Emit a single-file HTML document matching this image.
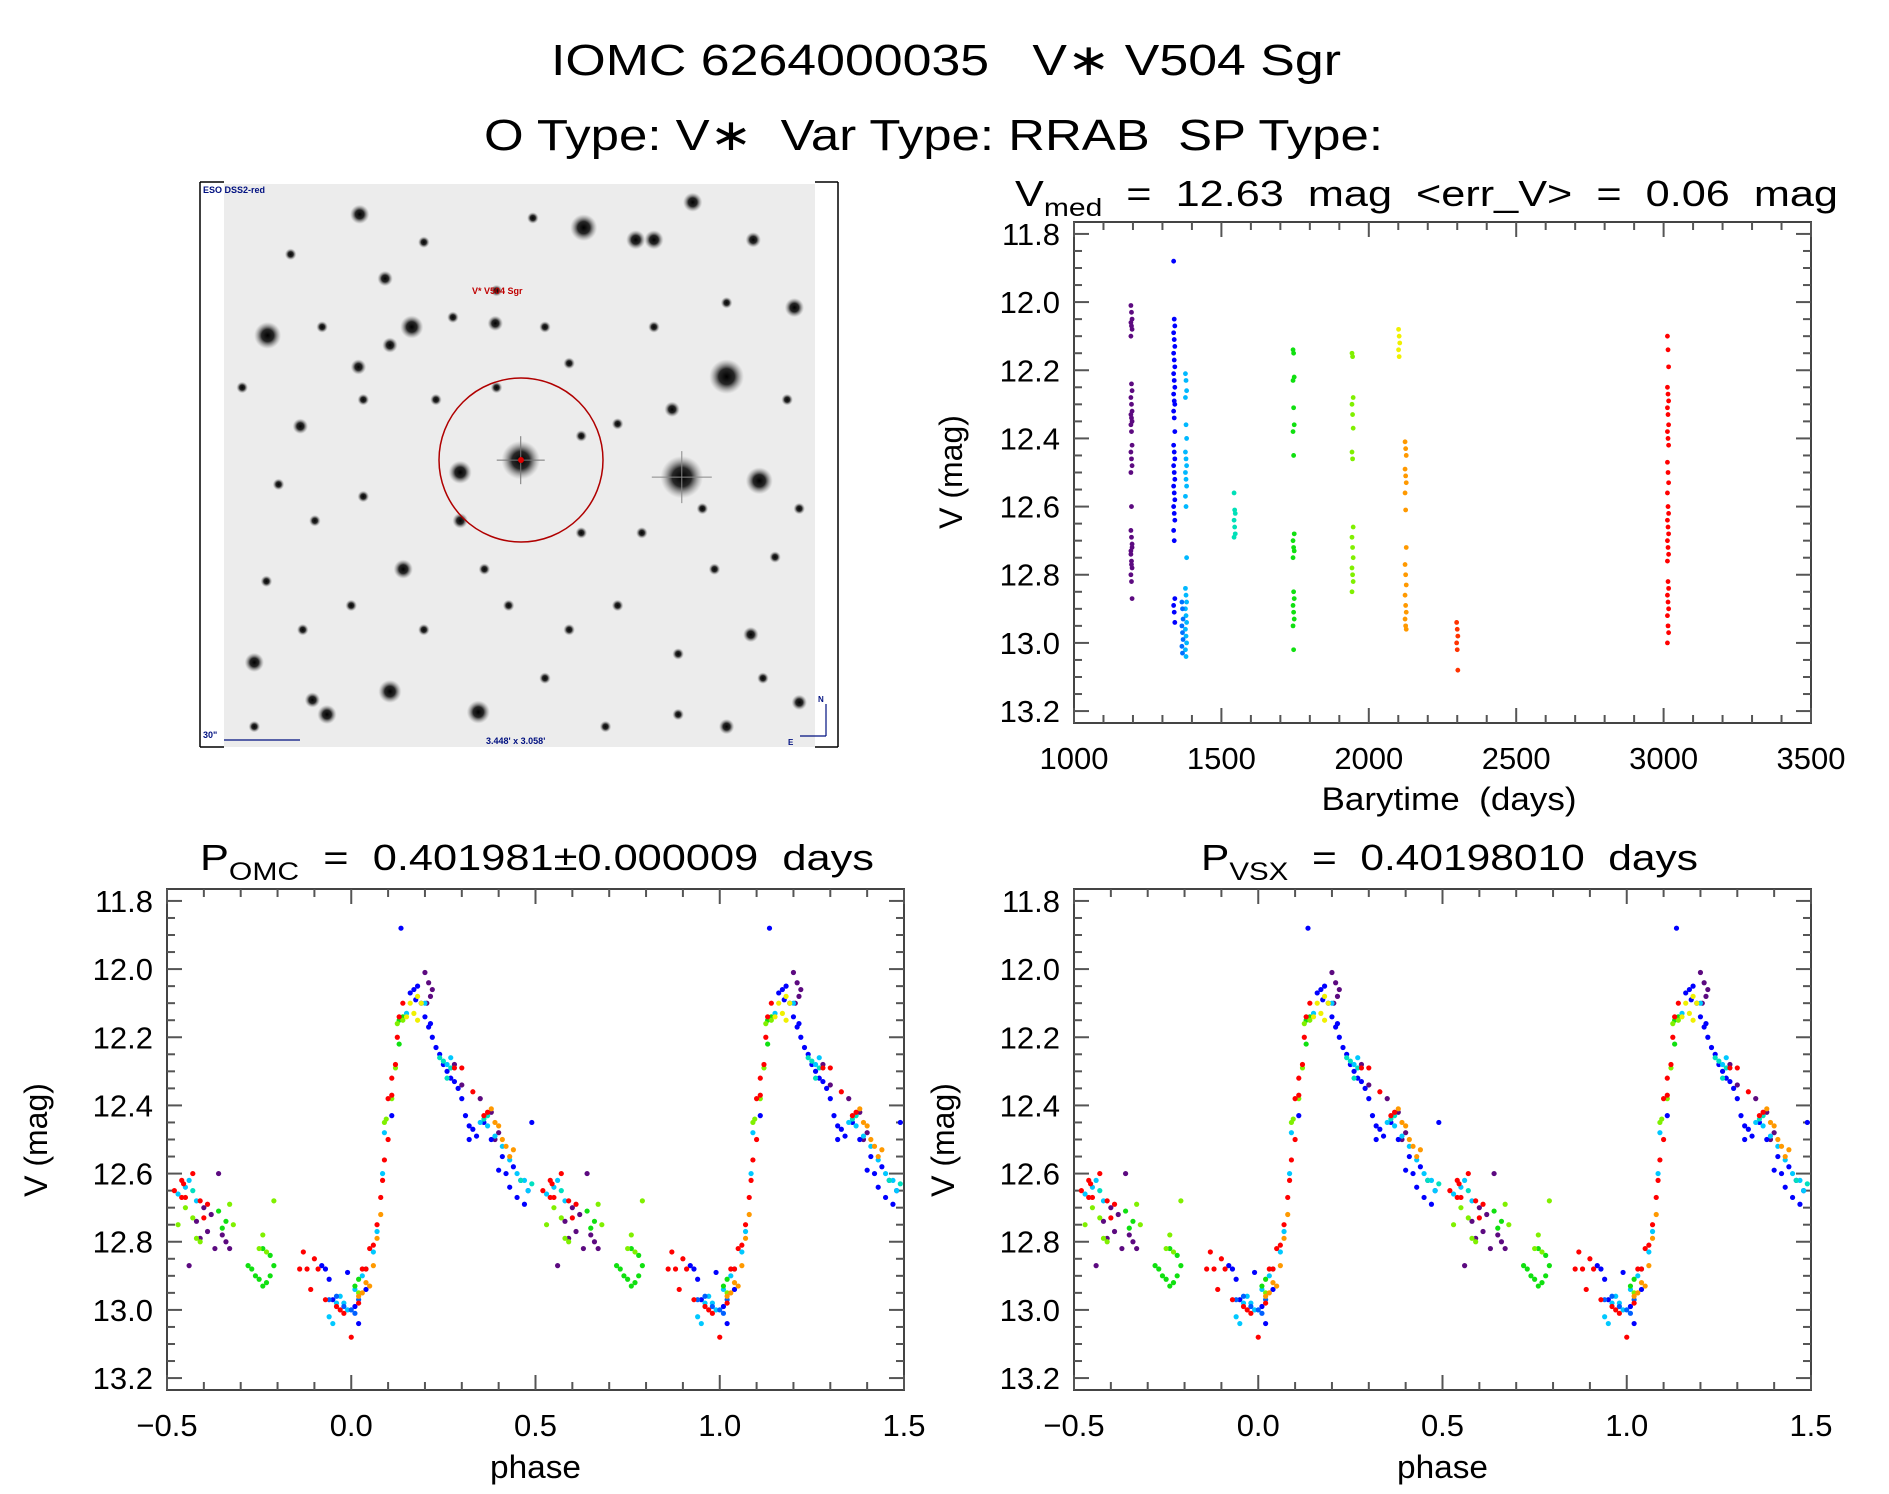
<!DOCTYPE html>
<html><head><meta charset="utf-8"><style>
html,body{margin:0;padding:0;background:#fff}
svg{display:block}
text{font-family:"Liberation Sans",sans-serif;fill:#000;white-space:pre}
</style></head><body>
<svg id="fig" width="1889" height="1494" viewBox="0 0 1889 1494" xmlns="http://www.w3.org/2000/svg" xml:space="preserve">
<defs>
<radialGradient id="star"><stop offset="0" stop-color="#000" stop-opacity="1"/><stop offset="0.45" stop-color="#111" stop-opacity="0.9"/><stop offset="1" stop-color="#888" stop-opacity="0"/></radialGradient>
</defs>
<text x="551" y="75" font-size="44" textLength="790" lengthAdjust="spacingAndGlyphs">IOMC 6264000035   V∗ V504 Sgr</text>
<text x="484" y="150" font-size="44" textLength="899" lengthAdjust="spacingAndGlyphs">O Type: V∗  Var Type: RRAB  SP Type:</text>
<g id="img"></g>
<g id="ts"></g>
<g id="ph1"></g>
<g id="ph2"></g>
</svg>
<script>
// ---- Time series data (Barytime, V mag) per season ----
const seasonColors = ['#5c0a80','#0000ff','#00b8ff','#0070ff','#00e0b8','#10e010','#80f000','#f0f000','#ff9900','#ff3300','#ff0000'];
const seasonTimes = [1195,1340,1380,1368,1545,1745,1945,2103,2125,2300,3015];
const seasonMags = [
 [12.01,12.03,12.05,12.06,12.07,12.08,12.10,12.24,12.26,12.28,12.30,12.32,12.33,12.34,12.35,12.36,12.38,12.42,12.44,12.46,12.48,12.50,12.60,12.72,12.74,12.76,12.78,12.80,12.82,12.87,12.67,12.69,12.71,12.73,12.77],
 [11.88,12.05,12.07,12.09,12.11,12.13,12.15,12.17,12.19,12.21,12.23,12.25,12.27,12.29,12.30,12.32,12.34,12.38,12.42,12.44,12.46,12.48,12.50,12.52,12.54,12.56,12.58,12.60,12.62,12.64,12.67,12.70,12.87,12.89,12.91,12.94],
 [12.21,12.23,12.26,12.28,12.36,12.40,12.44,12.46,12.48,12.50,12.52,12.54,12.57,12.60,12.75,12.84,12.86,12.88,12.90,12.92,12.94,12.96,12.98,13.00,13.02,13.04],
 [12.88,12.90,12.93,12.95,12.97,12.99,13.01,13.03],
 [12.56,12.61,12.62,12.64,12.66,12.68,12.69],
 [12.14,12.15,12.22,12.23,12.31,12.36,12.38,12.45,12.68,12.70,12.72,12.73,12.75,12.85,12.87,12.89,12.91,12.93,12.95,13.02],
 [12.15,12.16,12.28,12.30,12.33,12.37,12.44,12.46,12.66,12.69,12.72,12.75,12.78,12.80,12.82,12.85],
 [12.08,12.10,12.12,12.14,12.16],
 [12.41,12.43,12.45,12.49,12.51,12.53,12.56,12.61,12.72,12.77,12.80,12.83,12.86,12.89,12.91,12.93,12.95,12.96],
 [12.94,12.96,12.98,13.00,13.02,13.08],
 [12.10,12.14,12.19,12.25,12.27,12.29,12.31,12.33,12.36,12.38,12.40,12.42,12.47,12.50,12.53,12.56,12.60,12.62,12.64,12.66,12.68,12.70,12.72,12.74,12.76,12.82,12.84,12.86,12.88,12.90,12.92,12.95,12.97,13.00]
];
// ---- Phase data (phase in [-0.5,0.5), V mag), by season color index ----
const phPurple = [[-0.44,12.87],[-0.42,12.74],[-0.41,12.79],[-0.39,12.77],[-0.38,12.72],[-0.37,12.82],[-0.36,12.60],[-0.35,12.78],[-0.34,12.80],[-0.33,12.82],[-0.40,12.70],[0.20,12.01],[0.21,12.04],[0.215,12.08],[0.22,12.06],[0.205,12.10],[0.28,12.28],[0.30,12.34],[0.35,12.38],[0.38,12.42],[0.39,12.50],[0.40,12.48]];
const phBlue = [[-0.08,12.87],[-0.07,12.88],[-0.06,12.91],[-0.05,12.97],[-0.01,12.89],[0.01,12.99],[0.02,13.04],[0.04,12.94],[0.11,12.43],[0.135,11.88],[0.16,12.07],[0.17,12.06],[0.18,12.05],[0.19,12.10],[0.20,12.14],[0.21,12.17],[0.22,12.20],[0.23,12.23],[0.24,12.25],[0.215,12.16],[0.25,12.28],[0.26,12.30],[0.27,12.32],[0.28,12.33],[0.29,12.35],[0.30,12.38],[0.31,12.43],[0.32,12.46],[0.33,12.47],[0.32,12.50],[0.34,12.49],[0.36,12.45],[0.38,12.50],[0.40,12.59],[0.42,12.60],[0.43,12.64],[0.45,12.67],[0.47,12.69],[0.49,12.45],[0.48,12.65],[0.46,12.62],[0.44,12.58],[0.41,12.55],[0.175,12.09]];
const phSky = [[-0.06,13.02],[-0.05,13.04],[-0.04,12.98],[-0.03,12.96],[-0.02,12.98],[-0.01,13.00],[0.01,12.94],[0.03,12.90],[0.04,12.88],[0.06,12.83],[0.07,12.77],[0.085,12.60],[0.09,12.48],[0.15,12.13],[0.20,12.10],[0.26,12.28],[0.27,12.26],[0.35,12.45],[0.37,12.46],[0.39,12.49],[0.41,12.52],[0.43,12.56],[0.45,12.60],[0.47,12.62],[0.48,12.65],[-0.47,12.66],[-0.45,12.64],[-0.44,12.62],[-0.42,12.68]];
const phDeepBlue = [[-0.06,12.97],[-0.04,12.96],[0.0,13.0],[0.02,12.97],[-0.02,12.99],[0.01,13.01]];
const phTeal = [[0.24,12.26],[0.25,12.27],[0.27,12.29],[0.26,12.32],[0.36,12.44],[0.37,12.43],[0.46,12.62],[-0.43,12.65],[0.49,12.63]];
const phGreen = [[-0.28,12.87],[-0.27,12.88],[-0.26,12.90],[-0.25,12.91],[-0.24,12.93],[-0.23,12.92],[-0.22,12.90],[-0.21,12.87],[-0.24,12.82],[-0.22,12.84],[0.02,12.91],[0.01,12.93],[0.13,12.15],[0.13,12.22],[0.14,12.14],[-0.34,12.74],[-0.35,12.76],[-0.36,12.71]];
const phLime = [[-0.47,12.75],[-0.45,12.70],[-0.43,12.73],[-0.42,12.79],[-0.41,12.80],[-0.33,12.69],[-0.32,12.75],[-0.25,12.82],[-0.24,12.78],[-0.23,12.83],[-0.21,12.68],[0.09,12.45],[0.095,12.44],[0.11,12.38],[0.12,12.29],[0.125,12.16],[0.14,12.15],[0.02,12.95]];
const phYellow = [[0.16,12.10],[0.17,12.13],[0.18,12.15],[0.19,12.10],[0.18,12.08],[0.15,12.14]];
const phOrange = [[0.03,12.95],[0.05,12.93],[0.06,12.87],[0.07,12.79],[0.08,12.72],[0.38,12.41],[0.39,12.45],[0.40,12.46],[0.41,12.50],[0.42,12.52],[0.43,12.55],[0.44,12.53],[0.02,12.96],[0.04,12.92]];
const phRed = [[-0.14,12.88],[-0.13,12.83],[-0.12,12.88],[-0.10,12.85],[-0.09,12.88],[-0.11,12.94],[-0.07,12.97],[-0.04,12.99],[-0.03,13.00],[-0.02,13.01],[0.0,13.08],[0.02,12.98],[0.03,12.88],[0.04,12.88],[0.05,12.82],[0.06,12.81],[0.07,12.75],[0.08,12.67],[0.085,12.62],[0.09,12.56],[0.10,12.50],[0.10,12.38],[0.11,12.37],[0.11,12.32],[0.12,12.28],[0.125,12.20],[0.13,12.14],[0.14,12.10],[0.28,12.29],[0.30,12.29],[0.33,12.36],[0.36,12.43],[0.37,12.42],[-0.48,12.65],[-0.46,12.62],[-0.45,12.67],[-0.43,12.60],[-0.41,12.68],[-0.40,12.73],[-0.39,12.69],[-0.46,12.67],[-0.455,12.63]];
const phaseGroups = [[phPurple,'#5c0a80'],[phBlue,'#0000ff'],[phSky,'#00c8ff'],[phDeepBlue,'#0060ff'],[phTeal,'#00e0c0'],[phGreen,'#10e010'],[phLime,'#80f000'],[phYellow,'#f0f000'],[phOrange,'#ff9900'],[phRed,'#ff0000']];
const magTicks = ['11.8','12.0','12.2','12.4','12.6','12.8','13.0','13.2'];
const timeTicks = ['1000','1500','2000','2500','3000','3500'];
const phaseTicks = ['\u22120.5','0.0','0.5','1.0','1.5'];

const NS='http://www.w3.org/2000/svg';
function mk(tag, parent, attrs){const e=document.createElementNS(NS,tag);for(const k in attrs)e.setAttribute(k,attrs[k]);parent.appendChild(e);return e;}

function panel(g, box, xd, yd, xMaj, xMin, yMaj, yMin, xlabels, ylabels, name){
  const sx=v=>box.x0+(v-xd[0])/(xd[1]-xd[0])*(box.x1-box.x0);
  const sy=v=>box.y0+(v-yd[0])/(yd[1]-yd[0])*(box.y1-box.y0);
  const r=mk('rect',g,{x:box.x0,y:box.y0,width:box.x1-box.x0,height:box.y1-box.y0,fill:'none',stroke:'#444','stroke-width':2});
  
  
  const tk=mk('g',g,{stroke:'#555','stroke-width':2});
  
  
  const n=Math.round((xd[1]-xd[0])/xMin);
  for(let i=0;i<=n;i++){const v=xd[0]+i*xMin;const X=sx(v);const maj=Math.abs((v-xd[0])/xMaj-Math.round((v-xd[0])/xMaj))<1e-6;const L=maj?15:8;
    mk('line',tk,{x1:X,x2:X,y1:box.y1,y2:box.y1-L});mk('line',tk,{x1:X,x2:X,y1:box.y0,y2:box.y0+L});}
  const m=Math.round((13.2-11.8)/yMin);
  for(let i=0;i<=m;i++){const v=11.8+i*yMin;const Y=sy(v);const maj=i%Math.round(yMaj/yMin)===0;const L=maj?15:8;
    mk('line',tk,{x1:box.x0,x2:box.x0+L,y1:Y,y2:Y});mk('line',tk,{x1:box.x1,x2:box.x1-L,y1:Y,y2:Y});}
  xlabels.forEach((s,i)=>{const v=xd[0]+i*xMaj;const t=mk('text',g,{x:sx(v),y:box.y1+46,'font-size':31,'text-anchor':'middle'});t.textContent=s;
    
    });
  ylabels.forEach((s,i)=>{const t=mk('text',g,{x:box.x0-14,y:sy(11.8+i*yMaj)+11,'font-size':31,'text-anchor':'end'});t.textContent=s;
    
    });
  return {sx,sy};
}
function ytitle(g,x,y,name){const t=mk('text',g,{x:0,y:0,'font-size':32,'text-anchor':'middle',transform:`translate(${x},${y}) rotate(-90)`});t.textContent='V (mag)';
  
  }
function title(g,x,y,main,sub,rest,len,name){const t=mk('text',g,{x:x,y:y,'font-size':36});
  
  
  const a=mk('tspan',t,{});a.textContent=main;const b=mk('tspan',t,{'font-size':25,dy:10});b.textContent=sub;const c=mk('tspan',t,{dy:-10});c.textContent=rest;
  t.setAttribute('textLength',len);t.setAttribute('lengthAdjust','spacingAndGlyphs');}

const yd=[11.765,13.235];
// Light curve
const ts=document.getElementById('ts');
title(ts,1015,206,'V','med','  =  12.63  mag  <err_V>  =  0.06  mag',823,'light-curve');
const A=panel(ts,{x0:1074,x1:1811,y0:222,y1:723},[1000,3500],yd,500,100,0.2,0.05,timeTicks,magTicks,'light-curve');
ytitle(ts,962,472,'light-curve');
{const t=mk('text',ts,{x:1449,y:810,'font-size':32,'text-anchor':'middle',textLength:255,lengthAdjust:'spacingAndGlyphs'});t.textContent='Barytime  (days)';
 
 }
const tsDots=mk('g',ts,{});


seasonMags.forEach((arr,si)=>{arr.forEach((mg,j)=>{const c=mk('circle',tsDots,{cx:A.sx(seasonTimes[si]+(j%3-1)*2),cy:A.sy(mg),r:2.4,fill:seasonColors[si]});
  
  });});

function phasePanel(id,x0,x1,ttl,sub,rest,tx,len,name){
  const g=document.getElementById(id);
  title(g,tx,870,ttl,sub,rest,len,name);
  const P=panel(g,{x0:x0,x1:x1,y0:889,y1:1390},[-0.5,1.5],yd,0.5,0.1,0.2,0.05,phaseTicks,magTicks,name);
  ytitle(g,x0-120,1140,name);
  const t=mk('text',g,{x:(x0+x1)/2,y:1478,'font-size':32,'text-anchor':'middle',textLength:91,lengthAdjust:'spacingAndGlyphs'});t.textContent='phase';
  
  
  const d=mk('g',g,{});
  
  
  phaseGroups.forEach(([pts,col])=>{pts.forEach(([p,mg])=>{[p,p+1].forEach(pp=>{if(pp<-0.5||pp>1.5)return;
    const c=mk('circle',d,{cx:P.sx(pp),cy:P.sy(mg),r:2.6,fill:col});
    
    });});});
}
phasePanel('ph1',167,904,'P','OMC','  =  0.401981\u00b10.000009  days',200,674,'phase-omc');
phasePanel('ph2',1074,1811,'P','VSX','  =  0.40198010  days',1201,497,'phase-vsx');

// Sky image (decorative)
const img=document.getElementById('img');
const S=1.211;
mk('rect',img,{x:224,y:184,width:591,height:563,fill:'#ececec'});
mk('line',img,{x1:200,y1:182,x2:200,y2:747,stroke:'#000','stroke-width':1.5});
mk('line',img,{x1:200,y1:182,x2:224,y2:182,stroke:'#000','stroke-width':1.5});
mk('line',img,{x1:200,y1:747,x2:224,y2:747,stroke:'#000','stroke-width':1.5});
mk('line',img,{x1:838,y1:182,x2:838,y2:747,stroke:'#000','stroke-width':1.5});
mk('line',img,{x1:815,y1:182,x2:838,y2:182,stroke:'#000','stroke-width':1.5});
mk('line',img,{x1:815,y1:747,x2:838,y2:747,stroke:'#000','stroke-width':1.5});
const stars=[[600,311,9],[563,394,11],[430,380,10],[221,277,7],[482,188,7],[297,177,5],[340,270,6],[322,285,4],[380,390,6],[627,397,7],[333,470,5],[210,547,5],[322,571,6],[395,588,6],[270,590,5],[572,167,5],[622,198,4],[656,254,5],[296,303,4],[248,352,4],[409,267,4],[318,230,4],[266,270,3],[555,338,4],[525,198,5],[540,198,5],[620,524,4],[660,580,4],[258,578,4],[410,240,3],[374,262,3],[410,320,3],[480,440,3],[590,470,3],[510,500,3],[450,560,3],[300,410,3],[260,430,3],[220,480,3],[640,460,3],[600,600,4],[500,600,3],[350,520,3],[420,500,3],[560,540,3],[230,400,3],[290,500,3],[470,300,3],[510,350,3],[650,330,3],[200,320,3],[360,330,3],[630,560,3],[540,270,3],[440,180,3],[380,430,4],[580,420,3],[240,210,3],[350,200,3],[660,420,3],[470,520,3],[530,440,3],[250,520,3],[400,470,3],[560,590,3],[300,330,3],[600,250,3],[450,270,3],[210,600,3],[480,360,3]];
stars.forEach(([x,y,r])=>mk('circle',img,{cx:x*S,cy:y*S,r:r*S*1.6,fill:'url(#star)'}));
mk('line',img,{x1:430*S-24,y1:380*S,x2:430*S+24,y2:380*S,stroke:'#777','stroke-width':1});
mk('line',img,{x1:430*S,y1:380*S-24,x2:430*S,y2:380*S+24,stroke:'#777','stroke-width':1});
mk('line',img,{x1:563*S-30,y1:394*S,x2:563*S+30,y2:394*S,stroke:'#888','stroke-width':1});
mk('line',img,{x1:563*S,y1:394*S-26,x2:563*S,y2:394*S+26,stroke:'#888','stroke-width':1});
mk('circle',img,{cx:521,cy:460,r:82,fill:'none',stroke:'#b00000','stroke-width':1.5});
mk('circle',img,{cx:521,cy:460,r:3,fill:'#e00000'});
function lbl(x,y,s,col,fs,nm){const t=mk('text',img,{x:x,y:y,'font-size':fs,'font-weight':'bold',style:'fill:'+col});t.textContent=s;
  
  }
lbl(203,193,'ESO DSS2-red','#001080',9,'image-source-label');
lbl(472,294,'V* V504 Sgr','#c00000',9,'target-label');
lbl(203,738,'30"','#001080',9,'scale-label');
lbl(486,744,'3.448\' x 3.058\'','#001080',9,'fov-label');
lbl(818,702,'N','#001080',8,'north-label');
lbl(788,745,'E','#001080',8,'east-label');
mk('line',img,{x1:224,y1:740,x2:300,y2:740,stroke:'#001080','stroke-width':1.2});
mk('line',img,{x1:826,y1:704,x2:826,y2:736,stroke:'#001080','stroke-width':1.2});
mk('line',img,{x1:800,y1:736,x2:826,y2:736,stroke:'#001080','stroke-width':1.2});
</script>
</body></html>
